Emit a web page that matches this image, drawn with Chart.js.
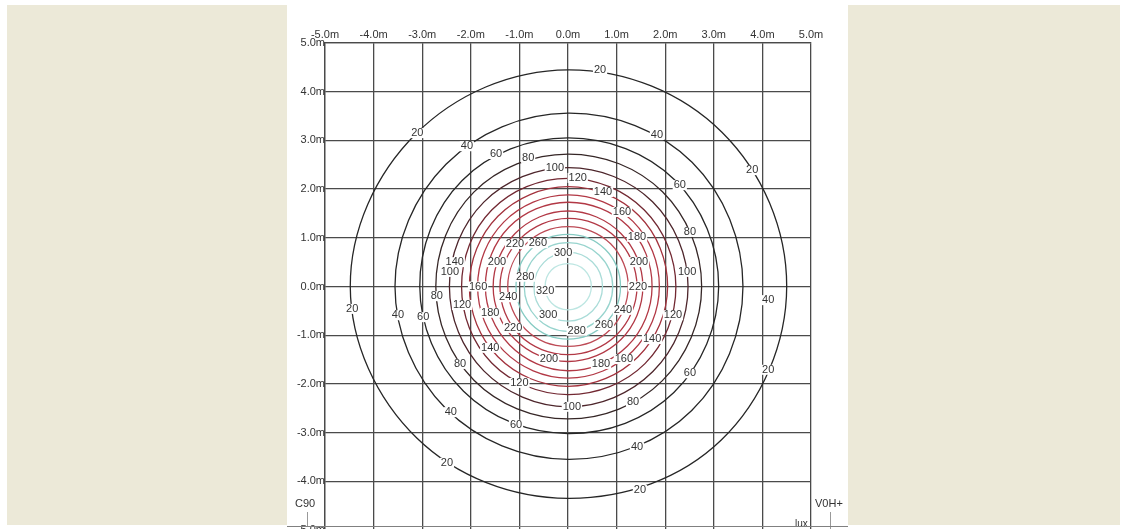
<!DOCTYPE html>
<html>
<head>
<meta charset="utf-8">
<title>Isolux C90</title>
<script src="https://cdn.jsdelivr.net/npm/chart.js@4.4.0/dist/chart.umd.min.js"></script>
<style>
  html, body { margin: 0; padding: 0; background: #fff; width: 1123px; height: 529px; overflow: hidden; }
  .side { position: absolute; top: 5px; height: 520px; background: #ECE9D8; }
  #left { left: 7px; width: 280px; }
  #right { left: 848px; width: 272px; }
  #wrap { position: absolute; left: 0; top: 0; width: 1123px; height: 560px; }
  #base { position: absolute; left: 287px; top: 526px; width: 561px; height: 1px; background: #808080; }
</style>
</head>
<body>
<div class="side" id="left"></div>
<div class="side" id="right"></div>
<div id="wrap"><canvas id="iso" width="1123" height="560"></canvas></div>
<div id="base"></div>
<script>
// isolux levels (lux)
const levels = [20, 40, 60, 80, 100, 120, 140, 160, 180, 200, 220, 240, 260, 280, 300, 320];
// directions (deg) in which the radius of each isoline was read
const angles = [0, 45, 90, 135, 180, 225, 270, 315];
// radius (m) of each isoline in the directions above, one row per level
const radii = [
  [4.50, 4.48, 4.45, 4.43, 4.48, 4.40, 4.35, 4.46],
  [3.60, 3.61, 3.56, 3.55, 3.56, 3.55, 3.55, 3.60],
  [3.10, 3.10, 3.05, 3.08, 3.05, 3.04, 3.02, 3.08],
  [2.75, 2.75, 2.72, 2.74, 2.72, 2.73, 2.72, 2.74],
  [2.47, 2.46, 2.44, 2.45, 2.44, 2.45, 2.47, 2.47],
  [2.22, 2.22, 2.22, 2.22, 2.19, 2.22, 2.22, 2.24],
  [2.05, 2.06, 2.05, 2.04, 2.03, 2.04, 2.05, 2.04],
  [1.88, 1.89, 1.88, 1.87, 1.86, 1.87, 1.88, 1.88],
  [1.73, 1.75, 1.73, 1.72, 1.70, 1.70, 1.73, 1.73],
  [1.54, 1.54, 1.55, 1.54, 1.54, 1.54, 1.54, 1.54],
  [1.42, 1.41, 1.40, 1.39, 1.40, 1.41, 1.40, 1.41],
  [1.24, 1.24, 1.23, 1.23, 1.24, 1.24, 1.23, 1.24],
  [1.08, 1.08, 1.07, 1.08, 1.07, 1.08, 1.08, 1.08],
  [0.92, 0.91, 0.90, 0.91, 0.90, 0.91, 0.92, 0.92],
  [0.71, 0.71, 0.70, 0.70, 0.70, 0.72, 0.71, 0.71],
  [0.48, 0.48, 0.47, 0.48, 0.47, 0.48, 0.48, 0.48]
];
const levelColors = ['#262626', '#262626', '#262626', '#352626', '#4d252b', '#722832',
  '#a3323d', '#b23845', '#b23845', '#b23845', '#b23845', '#bd4a55',
  '#86cbc3', '#98d4ce', '#aadcd8', '#bde6e2'];
// where the value of an isoline is written: [level, x m, y m]
const isoLabels = [
  [20, 0.66, 4.45], [20, -3.1, 3.15], [20, 3.79, 2.39], [20, -4.44, -0.46], [20, 4.12, -1.71], [20, -2.49, -3.62], [20, 1.48, -4.18],
  [40, -2.08, 2.88], [40, 1.83, 3.11], [40, -3.5, -0.59], [40, 4.12, -0.28], [40, -2.41, -2.58], [40, 1.42, -3.3],
  [60, -1.48, 2.72], [60, 2.3, 2.08], [60, -2.98, -0.63], [60, 2.51, -1.78], [60, -1.07, -2.84],
  [80, -0.82, 2.64], [80, 2.51, 1.12], [80, -2.7, -0.2], [80, -2.22, -1.59], [80, 1.34, -2.37],
  [100, -0.27, 2.43], [100, 2.45, 0.3], [100, -2.43, 0.3], [100, 0.08, -2.47],
  [120, 0.2, 2.23], [120, 2.16, -0.59], [120, -2.18, -0.38], [120, -1.0, -1.98],
  [140, 0.72, 1.94], [140, -2.33, 0.5], [140, 1.73, -1.08], [140, -1.6, -1.26],
  [160, 1.11, 1.53], [160, -1.85, 0.0], [160, 1.15, -1.49],
  [180, 1.42, 1.02], [180, -1.6, -0.54], [180, 0.68, -1.59],
  [200, 1.46, 0.5], [200, -1.46, 0.5], [200, -0.39, -1.49],
  [220, -1.09, 0.87], [220, 1.44, 0.0], [220, -1.13, -0.85],
  [240, -1.23, -0.22], [240, 1.13, -0.48],
  [260, -0.62, 0.89], [260, 0.74, -0.79],
  [280, -0.88, 0.2], [280, 0.18, -0.91],
  [300, -0.1, 0.69], [300, -0.41, -0.59],
  [320, -0.47, -0.09]
];

const FONT = '"Liberation Sans", Arial, sans-serif';

// closed isolines: one point repeated on each side so the curve is smooth all round,
// the two helper segments are not stroked
const datasets = levels.map((lv, i) => {
  const pts = angles.map((a, k) => ({
    x: radii[i][k] * Math.cos(a * Math.PI / 180),
    y: radii[i][k] * Math.sin(a * Math.PI / 180)
  }));
  const n = pts.length;
  const ring = [pts[n - 1], ...pts, pts[0], pts[1]];
  const last = ring.length - 1;
  return {
    label: lv + ' lux',
    data: ring,
    showLine: true,
    borderColor: levelColors[i],
    borderWidth: 1.3,
    pointRadius: 0,
    tension: 0.37,
    segment: {
      borderColor: c => (c.p0DataIndex === 0 || c.p1DataIndex === last) ? 'rgba(0,0,0,0)' : undefined
    }
  };
});

const textPlugin = {
  id: 'isoText',
  afterDatasetsDraw(chart) {
    const { ctx, scales: { x, y } } = chart;
    ctx.save();
    ctx.font = '11px ' + FONT;
    ctx.textAlign = 'center';
    ctx.textBaseline = 'middle';
    isoLabels.forEach(([v, mx, my]) => {
      const px = x.getPixelForValue(mx);
      const py = y.getPixelForValue(my);
      const t = String(v);
      const w = ctx.measureText(t).width;
      ctx.fillStyle = '#fff';
      ctx.fillRect(px - w / 2 - 1, py - 5, w + 2, 10);
      ctx.fillStyle = '#333';
      ctx.fillText(t, px, py);
    });
    // corner captions
    ctx.textAlign = 'left';
    ctx.fillStyle = '#333';
    ctx.fillText('C90', 295, 504);
    ctx.fillText('V0H+', 815, 504);
    ctx.font = '10px ' + FONT;
    ctx.fillText('lux', 795, 524);
    ctx.strokeStyle = '#999';
    ctx.lineWidth = 1;
    ctx.beginPath();
    ctx.moveTo(307.5, 512); ctx.lineTo(307.5, 526);
    ctx.moveTo(830.5, 512); ctx.lineTo(830.5, 529);
    ctx.stroke();
    ctx.restore();
  }
};

const tickFmt = v => v.toFixed(1) + 'm';

new Chart(document.getElementById('iso'), {
  type: 'scatter',
  data: { datasets },
  options: {
    responsive: false,
    animation: false,
    events: [],
    layout: { padding: { left: 285, right: 312, top: 23, bottom: 30 } },
    plugins: { legend: { display: false }, tooltip: { enabled: false } },
    scales: {
      x: {
        type: 'linear', position: 'top', min: -5, max: 5,
        ticks: { stepSize: 1, callback: tickFmt, color: '#333', font: { size: 11, family: FONT }, padding: 1, maxRotation: 0, autoSkip: false },
        grid: { color: '#4a4a4a', lineWidth: 1.3, drawTicks: false },
        border: { color: '#4a4a4a', width: 1.3 },
        afterFit: s => { s.height = 20; }
      },
      y: {
        type: 'linear', min: -5, max: 5,
        ticks: { stepSize: 1, callback: tickFmt, color: '#333', font: { size: 11, family: FONT }, padding: 0, autoSkip: false },
        grid: { color: '#4a4a4a', lineWidth: 1.3, drawTicks: false },
        border: { color: '#4a4a4a', width: 1.3 },
        afterFit: s => { s.width = 40; }
      }
    }
  },
  plugins: [textPlugin]
});
</script>
</body>
</html>
